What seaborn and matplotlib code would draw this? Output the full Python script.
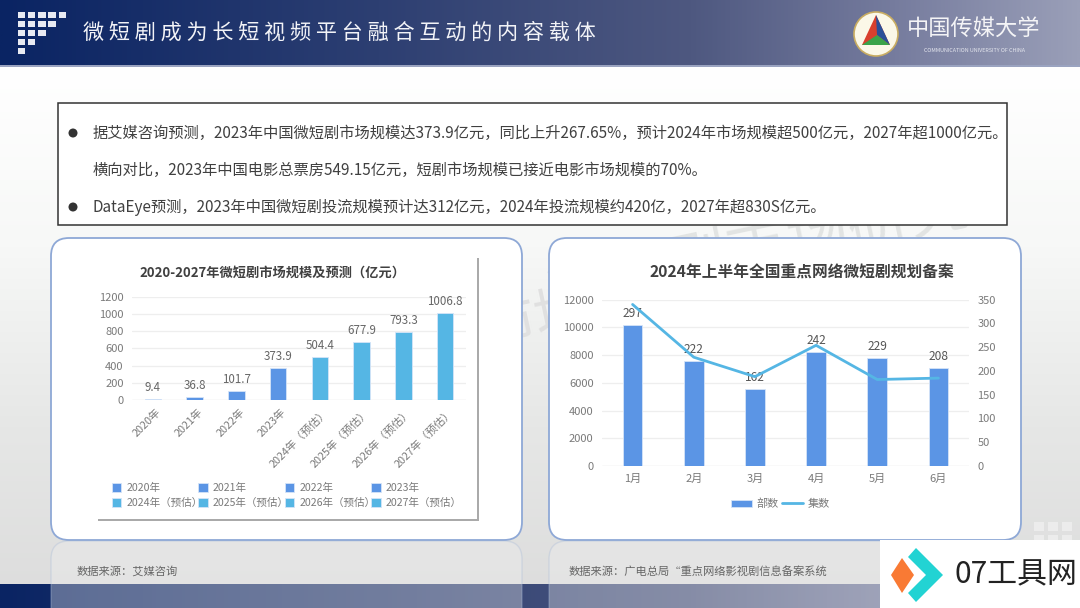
# -*- coding: utf-8 -*-
import numpy as np
import matplotlib
matplotlib.use("Agg")
import matplotlib.pyplot as plt
from matplotlib.patches import FancyBboxPatch, Rectangle, Polygon, Ellipse
from matplotlib.colors import LinearSegmentedColormap
from matplotlib.transforms import ScaledTranslation
import seaborn as sns

W, H = 1080, 608

# left chart
years = ["2020年", "2021年", "2022年", "2023年",
         "2024年（预估）", "2025年（预估）", "2026年（预估）", "2027年（预估）"]
market_size = [9.4, 36.8, 101.7, 373.9, 504.4, 677.9, 793.3, 1006.8]
year_colors = ["#5b95e5"] * 4 + ["#55b6e4"] * 4

# right chart
months = ["1月", "2月", "3月", "4月", "5月", "6月"]
episodes = [10150, 7600, 5550, 8250, 7800, 7100]
series_count = [340, 229, 188, 254, 182, 185]
bar_labels = ["297", "222", "162", "242", "229", "208"]

page_title = "微 短 剧 成 为 长 短 视 频 平 台 融 合 互 动 的 内 容 载 体"
body_lines = [
    "据艾媒咨询预测，2023年中国微短剧市场规模达373.9亿元，同比上升267.65%，预计2024年市场规模超500亿元，2027年超1000亿元。",
    "横向对比，2023年中国电影总票房549.15亿元，短剧市场规模已接近电影市场规模的70%。",
    "DataEye预测，2023年中国微短剧投流规模预计达312亿元，2024年投流规模约420亿，2027年超830S亿元。",
]

sns.set_theme(style="white")
plt.rcParams["font.family"] = ["Noto Sans CJK SC", "DejaVu Sans"]
plt.rcParams["axes.unicode_minus"] = False

GREY = "#7a7a7a"
GRID = "#eeeeee"

fig = plt.figure(figsize=(W / 100, H / 100), dpi=100, facecolor="white")


def px_axes(x0, y0, x1, y1, **kw):
    return fig.add_axes([x0 / W, 1 - y1 / H, (x1 - x0) / W, (y1 - y0) / H], **kw)


def round_box(ax, x0, y0, x1, y1, r=18, **kw):
    ax.add_patch(FancyBboxPatch((x0 + r, y0 + r), x1 - x0 - 2 * r, y1 - y0 - 2 * r,
                                boxstyle=f"round,pad={r},rounding_size={r}", **kw))


# slide layer, pixel coordinates
bg = px_axes(0, 0, W, H)
bg.set_xlim(0, W)
bg.set_ylim(H, 0)
bg.axis("off")

page = LinearSegmentedColormap.from_list("page", ["#ffffff", "#f7f8f7", "#e6e7e6", "#dcdcdc"])
bg.imshow(np.linspace(0, 1, 256)[:, None], cmap=page, extent=(0, W, 608, 66),
          aspect="auto", zorder=0)
band = LinearSegmentedColormap.from_list("band", [(0, "#0a2463"), (0.35, "#2d3f72"), (0.64, "#4e5880"),
                                                  (0.83, "#767c9e"), (1, "#9a9fb8")])
bg.imshow(np.linspace(0, 1, 512)[None, :], cmap=band, extent=(0, W, 65, 0),
          aspect="auto", zorder=1)
bg.imshow(np.linspace(0, 1, 512)[None, :], cmap=band, extent=(0, W, 608, 584),
          aspect="auto", zorder=1)
bg.add_patch(Rectangle((0, 65), W, 1.5, fc="#9aa3c0", ec="none", zorder=2))
bg.set_xlim(0, W)
bg.set_ylim(H, 0)

# faint watermark behind the cards
bg.text(760, 250, "微短剧市场研究", fontsize=44, color="#e2e4e3", rotation=12,
        ha="center", va="center", zorder=1.5)
bg.text(535, 320, "市场", fontsize=40, color="#e0e0e0", rotation=12,
        ha="center", va="center", zorder=1.5)

# header decoration
for row, count in enumerate([5, 4, 3, 2, 1]):
    for col in range(count):
        bg.add_patch(Rectangle((17.5 + col * 10.3, 11.5 + row * 9.1), 7.5, 6,
                               fc="#e8eaf2", ec="none", zorder=3))
bg.text(83, 33, page_title, color="#f2f3f7", fontsize=15.2, va="center", ha="left", zorder=3)

# university mark
bg.add_patch(Ellipse((876, 34), 44, 44, fc="#fbf8e8", ec="#c9ad62", lw=1.2, zorder=3))
bg.add_patch(Polygon([[876, 15], [890, 45], [862, 45]], fc="#d8402e", ec="none", zorder=4))
bg.add_patch(Polygon([[876, 15], [890, 45], [877, 35]], fc="#2a4f98", ec="none", zorder=5))
bg.add_patch(Polygon([[862, 45], [877, 35], [890, 45]], fc="#3aa34a", ec="none", zorder=5))
bg.text(974, 29, "中国传媒大学", color="#f4f4f6", fontsize=16, ha="center", va="center", zorder=3)
bg.text(974, 51, "COMMUNICATION UNIVERSITY OF CHINA", color="#e4e6ee", fontsize=3.9,
        ha="center", va="center", zorder=3)

# text box
bg.add_patch(Rectangle((58, 102.5), 949, 122.5, fc="white", ec="#333333", lw=1.1, zorder=3))
for y, txt, bullet in zip([133, 170, 207], body_lines, [True, False, True]):
    bg.text(93, y, txt, color="#404040", fontsize=11, va="center", ha="left", zorder=4)
    if bullet:
        bg.add_patch(Ellipse((73, y), 9, 9, fc="#333333", ec="none", zorder=4))

# reflected cards and source notes
for x0, x1, x_src, src in [(51, 522, 77, "数据来源：艾媒咨询"),
                           (549, 1021, 569, "数据来源：广电总局“重点网络影视剧信息备案系统")]:
    bg.add_patch(FancyBboxPatch((x0 + 18, 559), x1 - x0 - 36, 80,
                                boxstyle="round,pad=18,rounding_size=18", fc="#f0f0f0",
                                ec="#a9bbd8", lw=1, alpha=0.35, zorder=3))
    bg.text(x_src, 571, src, color="#666666", fontsize=8.1, va="center", ha="left", zorder=4)

# corner squares
for x in [1034, 1048, 1062]:
    for y in [522, 535]:
        bg.add_patch(Rectangle((x, y), 10, 9, fc="#ececec", ec="none", zorder=2))

# cards
for x0, x1 in [(51, 522), (549, 1021)]:
    round_box(bg, x0, 238, x1, 540, fc="white", ec="#8ea8d6", lw=1.3, zorder=5)

# panel of the left chart with its shadow
bg.add_patch(Rectangle((98, 258), 381, 263, fc="#aaaaaa", ec="none", zorder=5.5))
bg.add_patch(Rectangle((96, 256), 381, 263, fc="white", ec="none", zorder=5.6))

bg.text(272, 273, "2020-2027年微短剧市场规模及预测（亿元）", color="#404040", fontsize=9.5,
        fontweight="bold", ha="center", va="center", zorder=6)
bg.text(802, 273, "2024年上半年全国重点网络微短剧规划备案", color="#404040", fontsize=11.3,
        fontweight="bold", ha="center", va="center", zorder=6)

# site badge
bg.add_patch(Rectangle((880, 540), 200, 68, fc="white", ec="none", zorder=8))
bg.add_patch(Polygon([[902, 558], [914, 575], [902, 593], [891, 575]], fc="#f97a34", ec="none", zorder=9))
bg.add_patch(Polygon([[916, 548], [943, 575], [916, 602], [908, 593], [926, 575], [908, 557]],
                     fc="#22d3d3", ec="none", zorder=9))
bg.text(955, 575, "07工具网", color="#222222", fontsize=21.5, va="center", ha="left", zorder=9)

# left chart
ax1 = px_axes(132, 296.7, 466, 400, facecolor="none")
ax1.set_zorder(3)
sns.barplot(x=years, y=market_size, hue=years, palette=year_colors, dodge=False, saturation=1,
            width=0.4, legend=True, ax=ax1, zorder=3, hue_order=years, order=years,
            edgecolor="#d5e4f8", linewidth=0.6)
ax1.set_ylim(0, 1200)
ax1.set_xlim(-0.5, 7.5)
ax1.set_yticks(range(0, 1201, 200))
ax1.set_ylabel("")
ax1.grid(axis="y", color=GRID, lw=0.9)
ax1.set_axisbelow(True)
sns.despine(ax=ax1, left=True, bottom=True, top=True, right=True)
ax1.axhline(0, color=GRID, lw=1, zorder=1)
for cont, val in zip(ax1.containers, market_size):
    ax1.bar_label(cont, labels=[str(val)], padding=3.5, color="#666666", fontsize=8.3, clip_on=False)
ax1.tick_params(axis="y", length=0, labelsize=8, labelcolor=GREY, pad=6)
ax1.tick_params(axis="x", length=0, labelsize=7.8, labelcolor=GREY, pad=5)
shift = ScaledTranslation(3 / 100, 0, fig.dpi_scale_trans)
for lab in ax1.get_xticklabels():
    lab.set(rotation=45, ha="right", rotation_mode="anchor")
    lab.set_transform(lab.get_transform() + shift)
handles, labels = ax1.get_legend_handles_labels()
order = [0, 4, 1, 5, 2, 6, 3, 7]
ax1.legend([handles[i] for i in order], [labels[i] for i in order], ncol=4, frameon=False,
           loc="center left", bbox_to_anchor=(102 / W, 1 - 495.5 / H),
           bbox_transform=fig.transFigure, fontsize=7.6, labelcolor=GREY, handlelength=0.9,
           handleheight=0.9, handletextpad=0.5, columnspacing=-0.4, labelspacing=0.5)

# right chart
ax2 = px_axes(602, 299.7, 969, 466, facecolor="none")
ax2.set_zorder(3)
sns.barplot(x=months, y=episodes, color="#5b95e5", saturation=1, width=0.32, ax=ax2,
            zorder=3, label="部数", edgecolor="#d5e4f8", linewidth=0.6)
ax2.set_ylim(0, 12000)
ax2.set_xlim(-0.5, 5.5)
ax2.set_yticks(range(0, 12001, 2000))
ax2.set_ylabel("")
ax2.grid(axis="y", color=GRID, lw=0.9)
ax2.set_axisbelow(True)
ax2.axhline(0, color=GRID, lw=1, zorder=1)
ax2.bar_label(ax2.containers[0], labels=bar_labels, padding=3.5, color="#555555", fontsize=8.6)
ax2.tick_params(axis="both", length=0, labelsize=8, labelcolor=GREY, pad=6)

ax3 = ax2.twinx()
ax3.set_zorder(4)
sns.lineplot(x=months, y=series_count, color="#55b6e4", lw=2, ax=ax3, sort=False, label="集数", legend=False)
ax3.set_ylim(0, 350)
ax3.set_yticks(range(0, 351, 50))
ax3.tick_params(axis="y", length=0, labelsize=8, labelcolor=GREY, pad=6)
ax3.set_ylabel("")
ax3.grid(False)
for a in (ax2, ax3):
    sns.despine(ax=a, left=True, bottom=True, top=True, right=True)

h2, l2 = ax2.get_legend_handles_labels()
h3, l3 = ax3.get_legend_handles_labels()
if ax2.get_legend():
    ax2.get_legend().remove()
ax3.legend(h2 + h3, l2 + l3, ncol=2, frameon=False, loc="center",
           bbox_to_anchor=(780 / W, 1 - 504 / H), bbox_transform=fig.transFigure,
           fontsize=8, labelcolor=GREY, handlelength=1.9, handletextpad=0.4, columnspacing=0.3)

bg.set_zorder(1)
fig.savefig("out.png", dpi=100)
